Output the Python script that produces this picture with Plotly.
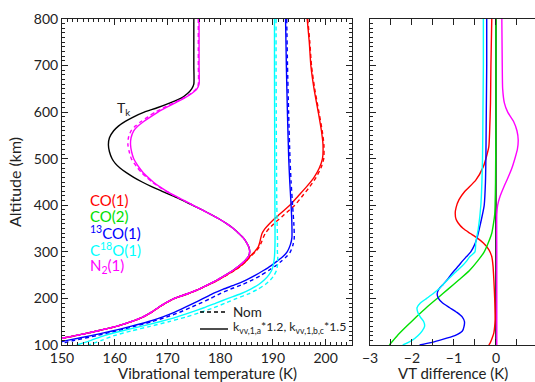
import plotly.graph_objects as go

# ---------------- data ----------------
# Kinetic temperature (black)
tk_alt = [800, 700, 660, 650, 640, 630, 620, 610, 600, 590, 580, 570, 560, 545, 530, 515, 500, 490, 480,
          470, 460, 450, 440, 430, 420, 410, 400, 390, 380, 370, 360, 350, 340, 330, 320, 310, 300, 290,
          280, 270, 260, 250, 240, 230, 220, 210, 200, 190, 180, 170, 160, 150, 140, 130, 120, 115, 110]
tk_T = [175.0, 175.0, 175.0, 174.6, 173.8, 172.6, 170.5, 168.2, 165.6, 163.6, 162.0, 160.7, 159.8, 159.0,
        158.8, 159.0, 159.5, 160.1, 161.0, 162.2, 163.6, 165.2, 167.0, 169.0, 171.0, 173.0, 174.8, 176.6,
        178.3, 179.9, 181.3, 182.5, 183.5, 184.4, 185.0, 185.45, 185.6, 185.35, 184.6, 183.6, 182.4, 181.0,
        179.5, 177.8, 176.0, 173.8, 171.3, 169.6, 168.2, 166.9, 165.3, 163.1, 160.3, 156.6, 152.5, 150.2, 147.8]

# N2(1) (magenta): modified (solid) and nominal (dashed)
n2_alt = [800, 700, 660, 650, 640, 630, 620, 610, 600, 590, 580, 570, 560, 545, 530, 515, 500, 490, 480,
          470, 460, 450, 440, 430, 420, 410, 400, 390, 380, 370, 360, 350, 340, 330, 320, 310, 300, 290,
          280, 270, 260, 250, 240, 230, 220, 210, 200, 190, 180, 170, 160, 150, 140, 130, 120, 115, 110]
n2_mod = [176.0, 176.0, 176.0, 175.6, 174.6, 173.2, 171.5, 169.8, 168.2, 166.8, 165.5, 164.4, 163.6, 163.1,
          163.0, 163.2, 163.6, 164.1, 164.7, 165.4, 166.3, 167.3, 168.5, 169.9, 171.5, 173.2, 174.9, 176.6,
          178.3, 179.9, 181.3, 182.5, 183.5, 184.4, 185.0, 185.45, 185.6, 185.35, 184.6, 183.6, 182.4, 181.0,
          179.5, 177.8, 176.0, 173.8, 171.3, 169.6, 168.2, 166.9, 165.3, 163.1, 160.3, 156.6, 152.5, 150.2, 147.8]
n2_nom = [175.85, 175.85, 175.85, 175.45, 174.45, 173.0, 171.2, 169.4, 167.7, 166.3, 165.0, 163.9, 163.1,
          162.6, 162.5, 162.75, 163.15, 163.7, 164.35, 165.1, 166.05, 167.1, 168.35, 169.8, 171.45, 173.15,
          174.88, 176.58, 178.28, 179.88, 181.28, 182.48, 183.48, 184.38, 184.98, 185.43, 185.58, 185.33,
          184.58, 183.58, 182.38, 180.98, 179.48, 177.78, 175.98, 173.78, 171.28, 169.58, 168.18, 166.88,
          165.28, 163.08, 160.28, 156.58, 152.48, 150.18, 147.78]

# CO(1) (red)
co1_alt = [800, 750, 700, 650, 600, 560, 530, 500, 480, 460, 440, 420, 400, 390, 380, 370, 360, 350, 340,
           330, 320, 310, 300, 290, 280, 270, 260, 250, 240, 230, 220, 210, 200, 190, 180, 170, 160, 150,
           140, 130, 120, 110]
co1_mod = [196.5, 196.9, 197.2, 197.8, 198.6, 199.2, 199.5, 199.4, 198.8, 197.8, 196.4, 194.8, 193.2, 192.2,
           191.2, 190.2, 189.3, 188.5, 187.95, 187.7, 187.5, 187.2, 186.5, 185.6, 184.9, 183.85, 182.65,
           181.2, 179.65, 177.9, 176.05, 173.85, 171.35, 169.65, 168.25, 166.95, 165.35, 163.15, 160.35,
           156.65, 152.55, 147.85]
co1_nom = [196.6, 197.0, 197.32, 197.93, 198.73, 199.35, 199.67, 199.64, 199.1, 198.2, 197.0, 195.6, 194.15,
           193.15, 192.17, 191.15, 190.15, 189.28, 188.57, 188.15, 187.8, 187.4, 186.67, 185.7, 184.98,
           183.92, 182.71, 181.25, 179.7, 177.94, 176.08, 173.88, 171.38, 169.67, 168.27, 166.97, 165.37,
           163.18, 160.39, 156.7, 152.62, 147.96]

# 13CO(1) (blue)
c13_alt = [800, 700, 600, 500, 450, 400, 360, 330, 315, 300, 290, 280, 270, 260, 250, 240, 230, 220, 210,
           200, 190, 180, 170, 160, 150, 140, 130, 120, 110, 105, 100]
c13_mod = [192.4, 192.55, 192.75, 193.0, 193.2, 193.45, 193.6, 193.6, 193.3, 192.7, 191.9, 190.8, 189.6,
           188.2, 186.7, 185.0, 183.0, 180.6, 178.5, 176.8, 175.0, 173.2, 171.3, 169.0, 166.3, 163.0, 159.5,
           155.5, 151.0, 149.0, 147.0]
c13_nom = [192.62, 192.77, 192.98, 193.24, 193.45, 193.73, 193.97, 194.05, 193.81, 193.30, 192.60, 191.60,
           190.49, 189.19, 187.78, 186.16, 184.26, 181.96, 179.90, 178.17, 176.27, 174.30, 172.23, 169.80,
           167.05, 163.76, 160.30, 156.48, 152.35, 150.55, 148.82]

# C18O(1) (cyan)
c18_alt = [800, 700, 600, 500, 400, 350, 320, 300, 290, 280, 270, 260, 250, 240, 230, 220, 210, 200, 190,
           180, 170, 160, 150, 140, 130, 120, 110, 100]
c18_mod = [190.3, 190.3, 190.32, 190.35, 190.38, 190.4, 190.4, 190.35, 190.3, 190.2, 190.05, 189.75, 189.2,
           188.4, 187.3, 185.8, 183.9, 181.5, 179.2, 176.9, 174.4, 171.7, 168.5, 165.0, 161.3, 158.0, 155.5,
           152.8]
c18_nom = [190.60, 190.60, 190.63, 190.67, 190.74, 190.82, 190.88, 190.85, 190.92, 190.90, 190.85, 190.67,
           190.24, 189.55, 188.56, 187.16, 185.40, 183.15, 181.00, 178.78, 176.26, 173.50, 170.22, 166.70,
           163.06, 159.86, 157.50, 155.02]

# VT differences (modified - nominal), right panel
d_tk_alt = [800, 100]
d_tk = [0.0, 0.0]

d_co1_alt = [800, 700, 620, 560, 526, 500, 483, 454, 430, 412, 395, 383, 370, 362, 350, 340, 330, 319,
             305, 290, 270, 240, 200, 154, 140, 126, 115, 104, 100]
d_co1 = [-0.10, -0.12, -0.13, -0.15, -0.17, -0.24, -0.30, -0.48, -0.74, -0.88, -0.95, -0.97, -0.95, -0.90,
         -0.78, -0.62, -0.45, -0.30, -0.17, -0.10, -0.07, -0.05, -0.03, -0.02, -0.03, -0.05, -0.09, -0.14,
         -0.17]

d_co2_alt = [800, 600, 450, 400, 380, 360, 340, 320, 300, 280, 260, 240, 220, 200, 180, 160, 140, 120, 100]
d_co2 = [0.0, 0.0, -0.01, -0.02, -0.03, -0.06, -0.10, -0.18, -0.28, -0.44, -0.63, -0.88, -1.14, -1.40,
         -1.66, -1.90, -2.13, -2.35, -2.54]

d_c13_alt = [800, 700, 600, 500, 450, 400, 360, 330, 315, 300, 290, 280, 270, 260, 250, 240, 230, 220, 210,
             200, 190, 180, 170, 160, 150, 140, 130, 120, 110, 105, 100]
d_c13 = [-0.22, -0.22, -0.23, -0.24, -0.25, -0.28, -0.37, -0.45, -0.51, -0.60, -0.70, -0.80, -0.89, -0.99,
         -1.08, -1.16, -1.26, -1.36, -1.40, -1.37, -1.27, -1.10, -0.93, -0.80, -0.75, -0.76, -0.80, -0.98,
         -1.35, -1.55, -1.82]

d_c18_alt = [800, 700, 600, 500, 400, 350, 320, 300, 290, 280, 270, 260, 250, 240, 230, 220, 210, 200, 190,
             180, 170, 160, 150, 140, 130, 120, 110, 100]
d_c18 = [-0.30, -0.30, -0.31, -0.32, -0.36, -0.42, -0.48, -0.50, -0.62, -0.70, -0.80, -0.92, -1.04, -1.15,
         -1.26, -1.36, -1.50, -1.65, -1.80, -1.88, -1.86, -1.80, -1.72, -1.70, -1.76, -1.86, -2.00, -2.22]

d_n2_alt = [800, 700, 650, 620, 600, 580, 560, 540, 520, 500, 480, 460, 440, 420, 400, 380, 300, 200, 100]
d_n2 = [0.14, 0.15, 0.16, 0.20, 0.28, 0.42, 0.50, 0.53, 0.51, 0.45, 0.38, 0.29, 0.19, 0.10, 0.04, 0.02,
        0.02, 0.02, 0.02]

species_labels = ["CO(1)", "CO(2)", "<sup>13</sup>CO(1)", "C<sup>18</sup>O(1)", "N<sub>2</sub>(1)"]
species_colors = ["#ff0000", "#00e000", "#0000ff", "#00ffff", "#ff00ff"]
x_ticks_left = [150, 160, 170, 180, 190, 200]
x_ticks_right = [-3, -2, -1, 0]

# ---------------- figure ----------------
FONT = "Lato, 'Open Sans', sans-serif"
RED, GREEN, BLUE, CYAN, MAG = species_colors
LW = 1.4
DASH = "4px,3px"

fig = go.Figure()

def add(x, y, color, dash="solid", xa="x", ya="y"):
    fig.add_trace(go.Scatter(x=x, y=y, mode="lines", xaxis=xa, yaxis=ya, showlegend=False,
                             line=dict(color=color, width=LW, dash=dash, shape="spline", smoothing=0.6),
                             hoverinfo="skip"))

# left panel
add(tk_T, tk_alt, "black")
add(co1_nom, co1_alt, RED, DASH)
add(co1_mod, co1_alt, RED)
add(c13_nom, c13_alt, BLUE, DASH)
add(c13_mod, c13_alt, BLUE)
add(c18_nom, c18_alt, CYAN, DASH)
add(c18_mod, c18_alt, CYAN)
add(n2_nom, n2_alt, MAG, DASH)
add(n2_mod, n2_alt, MAG)

# right panel
add(d_tk, d_tk_alt, "black", xa="x2", ya="y2")
add(d_co1, d_co1_alt, RED, xa="x2", ya="y2")
add(d_co2, d_co2_alt, GREEN, xa="x2", ya="y2")
add(d_c13, d_c13_alt, BLUE, xa="x2", ya="y2")
add(d_c18, d_c18_alt, CYAN, xa="x2", ya="y2")
add(d_n2, d_n2_alt, MAG, xa="x2", ya="y2")

W, H = 535, 382
ML, MR, MT, MB = 62, 0, 19, 37
PW = W - ML - MR
left_dom = [0, 290 / PW]
right_dom = [308 / PW, 1.0]

axis_common = dict(showgrid=False, zeroline=False, showline=True, linecolor="#222", linewidth=1,
                   ticks="inside", tickcolor="#222", ticklen=6, tickwidth=1,
                   tickfont=dict(family=FONT, size=14, color="#222"))

fig.update_layout(
    width=W, height=H, margin=dict(l=ML, r=MR, t=MT, b=MB),
    paper_bgcolor="white", plot_bgcolor="white", showlegend=False,
    font=dict(family=FONT, size=14, color="#222"),
    xaxis=dict(domain=left_dom, range=[150, 205], tickvals=x_ticks_left, mirror="allticks",
               minor=dict(dtick=1, ticklen=3, ticks="inside", tickcolor="#222"), **axis_common),
    yaxis=dict(range=[100, 800], dtick=100, mirror="allticks",
               minor=dict(dtick=10, ticklen=3, ticks="inside", tickcolor="#222"), **axis_common),
    xaxis2=dict(domain=right_dom, range=[-3, 0.93], tickvals=x_ticks_right, anchor="y2", mirror="allticks",
                minor=dict(dtick=0.5, ticklen=6, ticks="inside", tickcolor="#222"), **axis_common),
    yaxis2=dict(range=[100, 800], dtick=100, anchor="x2", showticklabels=False, mirror=False,
                minor=dict(dtick=10, ticklen=3, ticks="inside", tickcolor="#222"), **axis_common),
)

# helpers: pixel position -> left-panel data coords (for text placement)
def tx(px):
    return 150 + (px - 62) / 290 * 55

def ay(py):
    return 800 - (py - 19) / 326 * 700

# species legend
for i, (lab, col) in enumerate(zip(species_labels, species_colors)):
    fig.add_annotation(x=tx(88), y=ay(200 + i * 16.4), xref="x", yref="y", text=lab, showarrow=False,
                       xanchor="left", yanchor="middle", font=dict(family=FONT, size=15, color=col))

# T_k label
fig.add_annotation(x=tx(115), y=ay(108), xref="x", yref="y", text="T<sub>k</sub>", showarrow=False,
                   xanchor="left", yanchor="middle", font=dict(family=FONT, size=14, color="#222"))

# line-style key
fig.add_shape(type="line", xref="x", yref="y", x0=tx(200), x1=tx(228), y0=ay(312), y1=ay(312),
              line=dict(color="black", width=LW, dash=DASH))
fig.add_shape(type="line", xref="x", yref="y", x0=tx(200), x1=tx(228), y0=ay(329), y1=ay(329),
              line=dict(color="black", width=LW))
fig.add_annotation(x=tx(231), y=ay(312), xref="x", yref="y", text="Nom", showarrow=False,
                   xanchor="left", yanchor="middle", font=dict(family=FONT, size=13.5, color="#222"))
fig.add_annotation(x=tx(231), y=ay(327), xref="x", yref="y",
                   text="k<sub>vv,1,a</sub>*1.2, k<sub>vv,1,b,c</sub>*1.5", showarrow=False,
                   xanchor="left", yanchor="middle", font=dict(family=FONT, size=12.3, color="#222"))

# axis titles
fig.add_annotation(x=0, y=0.5, xref="paper", yref="paper", xshift=-48, text="Altitude (km)", textangle=-90,
                   showarrow=False, xanchor="center", yanchor="middle", font=dict(family=FONT, size=16, color="#222"))
fig.add_annotation(x=sum(left_dom) / 2, y=0, xref="paper", yref="paper", yshift=-28,
                   text="Vibrational temperature (K)", showarrow=False, xanchor="center", yanchor="middle",
                   font=dict(family=FONT, size=15, color="#222"))
fig.add_annotation(x=sum(right_dom) / 2, y=0, xref="paper", yref="paper", yshift=-28,
                   text="VT difference (K)", showarrow=False, xanchor="center", yanchor="middle",
                   font=dict(family=FONT, size=15, color="#222"))

fig.write_html("out.html")
